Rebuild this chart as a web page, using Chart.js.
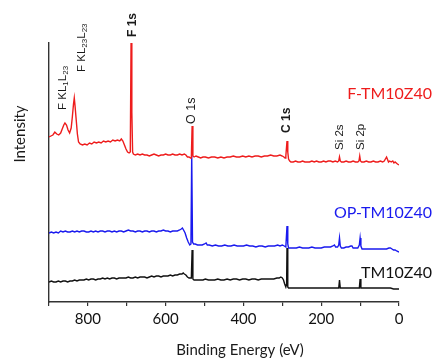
<!DOCTYPE html>
<html>
<head>
<meta charset="utf-8">
<script src="https://cdn.jsdelivr.net/npm/chart.js@4.4.0/dist/chart.umd.min.js"></script>
<style>
  body { margin: 0; background: #fff; }
  #wrap { width: 436px; height: 359px; }
</style>
</head>
<body>
<div id="wrap"><canvas id="xps" width="436" height="359"></canvas></div>
<script>
// XPS survey spectra, intensity in arbitrary units (offset stacked)
const seriesNames = ['F-TM10Z40', 'OP-TM10Z40', 'TM10Z40'];

const fEnergy = [900,895,890,885,880,875,870,866,862,859,855,851,847,843,840,837,835,833,830,827,824,820,814,808,802,796,790,784,778,772,766,760,754,748,742,736,730,724,718,714,710,706,702,698,694,691,689,687,685,683,678,672,666,660,654,648,642,636,630,624,618,612,606,600,594,588,582,576,570,564,558,552,548,544,540,536,534,532,530,527,522,516,510,504,498,490,482,474,466,458,450,442,434,426,418,410,402,394,386,378,370,362,354,346,338,330,322,314,306,300,296,293,291,288,286,284,281,278,272,266,260,254,248,242,236,230,224,218,212,206,200,194,188,182,176,170,164,158,155,153,151,148,142,136,130,124,118,112,106,103,101,99,96,90,84,78,72,66,60,54,48,42,38,35,32,30,27,24,20,16,13,10,7,4,0];
const fCounts = [165,166,167,170,168,167,169,173,177,179,177,172,169,174,185,198,204,196,182,168,160,158,157,158,157,159,158,160,159,160,159,161,160,161,160,162,161,162,161,163,161,157,153,150,149,150,259,190,150,148,147,148,147,148,147,147,146,147,148,147,146,147,147,148,147,147,148,147,147,148,147,148,147,145,145,144,144,176,146,145,146,145,144,145,145,144,145,145,144,145,144,145,145,146,145,145,146,145,146,145,146,146,145,146,146,147,146,146,147,146,145,144,146,161,150,143,141,140,140,141,140,140,141,140,140,140,141,140,141,140,140,141,140,141,141,140,141,140,141,145,141,140,140,141,140,140,141,140,140,141,146,141,140,140,141,140,140,141,140,140,141,140,141,143,145,143,140,141,140,141,139,140,139,138,137];

const opEnergy = [900,894,888,882,876,870,864,858,852,846,840,834,828,822,816,810,804,798,792,786,780,774,768,762,756,750,744,738,732,726,720,714,708,702,696,690,684,678,672,666,660,654,648,642,636,630,624,618,612,606,600,594,588,582,576,570,564,560,557,554,550,546,542,538,535,533,531,528,524,518,512,506,500,496,493,488,480,472,464,456,448,440,432,424,416,408,400,392,384,376,368,360,352,344,336,328,320,312,306,300,295,291,288,286,284,280,272,264,256,248,240,232,224,216,208,200,192,184,176,170,166,163,158,155,153,151,148,142,136,130,124,121,118,112,106,102,100,98,95,88,80,72,64,56,48,40,32,26,22,18,14,10,6,0];
const opCounts = [69,70,69,70,69,71,70,71,70,70,71,70,71,70,71,71,70,70,71,70,71,70,71,71,70,71,71,70,71,70,71,71,70,71,72,71,71,70,71,71,70,71,71,70,71,71,70,71,71,72,71,71,70,71,71,71,72,73,74,72,69,64,60,57,58,147,60,58,58,57,57,57,58,59,57,57,56,57,56,56,57,56,56,57,56,56,56,57,56,56,55,56,56,55,56,56,56,57,56,57,56,55,76,58,54,54,54,54,55,54,54,54,55,54,54,54,55,55,55,56,57,55,55,57,64,56,54,54,55,55,56,56,54,54,54,57,64,56,53,53,53,53,53,53,53,53,53,54,54,53,52,52,51,50];

const tmEnergy = [900,894,888,882,876,870,864,858,852,846,840,834,828,822,816,810,804,798,792,786,780,774,768,762,756,750,744,738,732,726,720,714,708,702,696,690,684,678,672,666,660,654,648,642,636,630,624,618,612,606,600,594,588,582,576,570,564,558,555,552,548,544,540,536,534,532,530,527,522,516,510,504,498,490,482,474,466,458,450,442,434,426,418,410,402,394,386,378,370,362,354,346,338,330,322,314,308,304,300,297,294,291,289,288,286,284,280,272,264,256,248,240,232,224,216,208,200,192,184,176,168,160,155,153,151,148,140,132,124,116,108,102,100,98,94,86,78,70,62,54,46,38,30,22,14,6,0];
const tmCounts = [20,21,20,20,21,20,21,21,20,21,21,22,21,22,22,22,23,22,23,23,22,23,23,24,23,24,23,24,24,23,24,24,24,24,25,24,24,25,24,25,25,25,24,25,26,25,26,26,25,26,26,26,27,26,27,27,28,28,29,28,27,25,24,24,24,52,23,22,22,22,22,22,23,22,22,22,23,22,22,23,22,23,23,22,23,23,22,23,23,22,23,23,23,23,23,24,24,25,24,22,18,15,18,54,15,14,14,14,14,14,14,14,14,14,14,14,14,14,14,14,14,14,14,22,14,14,14,14,14,14,14,14,23,14,14,14,14,14,14,14,14,14,14,14,13,13,13];

const xTicks = [0, 200, 400, 600, 800];

function toPoints(ex, cy) {
  return ex.map((e, i) => ({ x: e, y: cy[i] }));
}

// peak labels drawn rotated above the curves
const peakLabels = [
  { parts: [['F KL'], ['1', 1], ['L'], ['23', 1]], x: 63, y: 110, bold: false, size: 11.5 },
  { parts: [['F KL'], ['23', 1], ['L'], ['23', 1]], x: 82, y: 72, bold: false, size: 11.5 },
  { parts: [['F 1s']], x: 133, y: 37, bold: true, size: 12 },
  { parts: [['O 1s']], x: 192, y: 124, bold: false, size: 12.5 },
  { parts: [['C 1s']], x: 287, y: 133, bold: true, size: 12 },
  { parts: [['Si 2s']], x: 340, y: 150, bold: false, size: 11.5 },
  { parts: [['Si 2p']], x: 361, y: 150, bold: false, size: 11.5 }
];

const textPlugin = {
  id: 'xpsText',
  afterDraw(chart) {
    const ctx = chart.ctx;
    ctx.save();
    ctx.fillStyle = '#1a1a1a';
    peakLabels.forEach((lb) => {
      ctx.save();
      ctx.translate(lb.x, lb.y);
      ctx.rotate(-Math.PI / 2);
      ctx.textAlign = 'left';
      ctx.textBaseline = 'middle';
      let cx = 0;
      lb.parts.forEach(([t, sub]) => {
        const sz = sub ? lb.size * 0.7 : lb.size;
        ctx.font = (lb.bold ? 'bold ' : '') + sz + 'px "Liberation Sans", Arial, sans-serif';
        ctx.fillText(t, cx, sub ? 3 : 0);
        cx += ctx.measureText(t).width;
      });
      ctx.restore();
    });

    // series names
    ctx.font = '16px Lato, sans-serif';
    ctx.textAlign = 'right';
    ctx.textBaseline = 'middle';
    ctx.fillStyle = '#ee1c1c';
    ctx.fillText(seriesNames[0], 432, 94);
    ctx.fillStyle = '#1a1aee';
    ctx.fillText(seriesNames[1], 432, 213);
    ctx.fillStyle = '#111';
    ctx.fillText(seriesNames[2], 432, 273);

    // axis titles
    ctx.fillStyle = '#1a1a1a';
    ctx.font = '15px Lato, sans-serif';
    ctx.textAlign = 'center';
    ctx.fillText('Binding Energy (eV)', 240, 350);
    ctx.translate(20, 134);
    ctx.rotate(-Math.PI / 2);
    ctx.fillText('Intensity', 0, 0);
    ctx.restore();
  }
};

new Chart(document.getElementById('xps'), {
  type: 'line',
  data: {
    datasets: [
      { label: seriesNames[0], data: toPoints(fEnergy, fCounts), borderColor: '#ee1c1c' },
      { label: seriesNames[1], data: toPoints(opEnergy, opCounts), borderColor: '#1a1aee' },
      { label: seriesNames[2], data: toPoints(tmEnergy, tmCounts), borderColor: '#111' }
    ]
  },
  options: {
    responsive: false,
    animation: false,
    parsing: false,
    elements: {
      line: { borderWidth: 1.4, tension: 0, fill: false },
      point: { radius: 0 }
    },
    layout: { padding: { left: 49, top: 43, right: 37, bottom: 0 } },
    plugins: { legend: { display: false }, tooltip: { enabled: false } },
    scales: {
      x: {
        type: 'linear',
        min: 0,
        max: 900,
        reverse: true,
        afterFit: (s) => { s.height = 57; },
        afterBuildTicks: (s) => {
          s.ticks = [0, 100, 200, 300, 400, 500, 600, 700, 800, 900].map((v) => ({ value: v }));
        },
        border: { display: true, color: '#333', width: 1.4 },
        grid: { display: true, drawOnChartArea: false, drawTicks: true, tickLength: 4, color: '#333', lineWidth: 1.2 },
        ticks: {
          autoSkip: false,
          maxRotation: 0,
          padding: 4,
          color: '#111',
          font: { family: 'Lato', size: 15 },
          callback: (v) => (xTicks.includes(v) ? String(v) : '')
        }
      },
      y: {
        min: 0,
        max: 259,
        afterFit: (s) => { s.width = 0; },
        border: { display: true, color: '#333', width: 1.4 },
        grid: { display: true, drawOnChartArea: false, drawTicks: false },
        ticks: { display: false }
      }
    }
  },
  plugins: [textPlugin]
});
</script>
</body>
</html>
